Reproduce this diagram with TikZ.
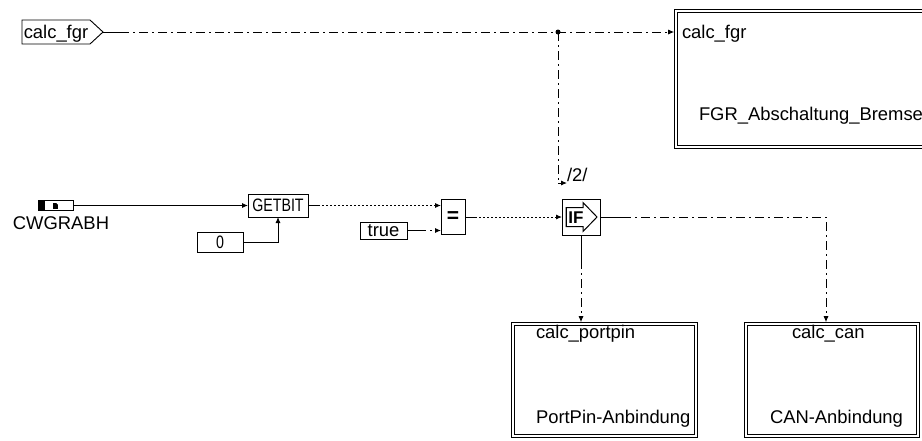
\documentclass[tikz,border=0pt]{standalone}
\usepackage{fontspec}
\setmainfont{Liberation Sans}
\usepackage{graphicx}
\usetikzlibrary{arrows.meta}
\begin{document}
\begin{tikzpicture}[x=1pt,y=-1pt,
  every node/.style={inner sep=0pt,outer sep=0pt},
  lbl/.style={font=\fontsize{18.4}{21}\selectfont},
  conn/.style={line width=0.9pt},
  arr/.style={-{Latex[length=6pt,width=5pt]}},
  dashdot/.style={dash pattern=on 9pt off 4pt on 2pt off 4pt},
  dotline/.style={dash pattern=on 2pt off 2pt},
  blk/.style={draw,line width=0.9pt},
  sub/.style={draw,line width=0.8pt,double=white,double distance=2pt,outer sep=1.8pt},
]
\clip (0,0) rectangle (922,440);
\fill[white] (0,0) rectangle (922,440);

% input port calc_fgr
\draw[line width=0.9pt] (22,20) -- (90,20) -- (103,32) -- (90,44) -- (22,44) -- cycle;
\node[lbl,anchor=base] (fgrin) at (56,38) {calc\_fgr};
\coordinate (fgrtip) at (103,32);

% FGR subsystem
\node[sub, minimum width=264pt, minimum height=136pt] (fgr) at (808,79) {};
\node[lbl, anchor=base west] (fgrl1) at (682,38) {calc\_fgr};
\node[lbl, anchor=base west] (fgrl2) at (699,120) {FGR\_Abschaltung\_Bremse};

\draw[conn] (fgrtip) -- (120,32) coordinate (t1);
\draw[conn,dashdot,arr] (t1) -- (fgr.west |- t1);

% branch
\coordinate (j) at (558,32);
\fill (j) circle (2.5pt);
\coordinate (k) at (558,183);
\node[lbl, anchor=base west] (two) at (567,181) {/2/};
\draw[conn,dashdot] (j) -- (k);
\draw[conn,arr] (k) -- (two.west |- k);

% CWGRABH
\node[blk, minimum width=35pt, minimum height=10pt] (cw) at (55.5,205.5) {};
\fill (cw.north west) rectangle ++(7,10);
\fill (53,202.5) rectangle (58,208.5);
\fill[white] (56,202.5) -- (58,202.5) -- (58,204.5) -- cycle;
\node[lbl, anchor=base] (cwl) at (61,229) {CWGRABH};

% GETBIT and 0
\node[blk, minimum width=60pt, minimum height=23pt] (getbit) at (278,205.5) {\scalebox{0.79}[1]{\fontsize{18}{18}\selectfont GETBIT}};
\node[blk, minimum width=46pt, minimum height=20pt] (zero) at (220,242) {\scalebox{0.79}[1]{\fontsize{18}{18}\selectfont 0}};
\draw[conn,arr] (cw.east) -- (getbit.west |- cw.east);
\draw[conn,arr] (zero.east) -| (getbit.south);

% = and true
\node[blk, minimum width=24pt, minimum height=35pt] (eq) at (453,217) {\fontsize{21}{21}\selectfont\bfseries =};
\node[blk, lbl, minimum width=47pt, minimum height=17pt] (true) at (383.5,230.5) {true};
\draw[conn] (getbit.east) -- ++(10,0) coordinate (g1);
\draw[conn,dotline,arr] (g1) -- (eq.west |- g1);
\draw[conn] (true.east) -- ++(10,0) coordinate (tr1);
\draw[conn,dashdot,arr] (tr1) -- (eq.west |- tr1);

% IF
\node[blk, minimum width=38pt, minimum height=36pt] (if) at (581,217) {};
\draw[line width=1pt] (566,207.5) -- (583,207.5) -- (583,202.5) -- (597,217) -- (583,231.5) -- (583,226.5) -- (566,226.5) -- cycle;
\draw[line width=1.6pt] (566.5,207.5) -- (566.5,226.5);
\node[font=\fontsize{17}{17}\selectfont\bfseries] (iftxt) at (576,217.5) {IF};
\draw[conn] (eq.east) -- ++(10,0) coordinate (e1);
\draw[conn,dotline,arr] (e1) -- (if.west |- e1);

% sub blocks
\node[sub, minimum width=183pt, minimum height=112pt] (pp) at (604.5,380) {};
\node[lbl, anchor=base west] (ppl1) at (536,338) {calc\_portpin};
\node[lbl, anchor=base west] (ppl2) at (536,423) {PortPin-Anbindung};
\node[sub, minimum width=172pt, minimum height=112pt] (can) at (832,380) {};
\node[lbl, anchor=base west] (canl1) at (792,338) {calc\_can};
\node[lbl, anchor=base west] (canl2) at (770,423) {CAN-Anbindung};

\draw[conn] (if.east) -- ++(22,0) coordinate (i1);
\coordinate (canin) at (826,322);
\draw[conn,dashdot,arr] (i1) -| (canin |- can.north);
\draw[conn] (if.south) -- ++(0,25) coordinate (i2);
\draw[conn,dashdot,arr] (i2) -- (i2 |- pp.north);
\end{tikzpicture}
\end{document}
